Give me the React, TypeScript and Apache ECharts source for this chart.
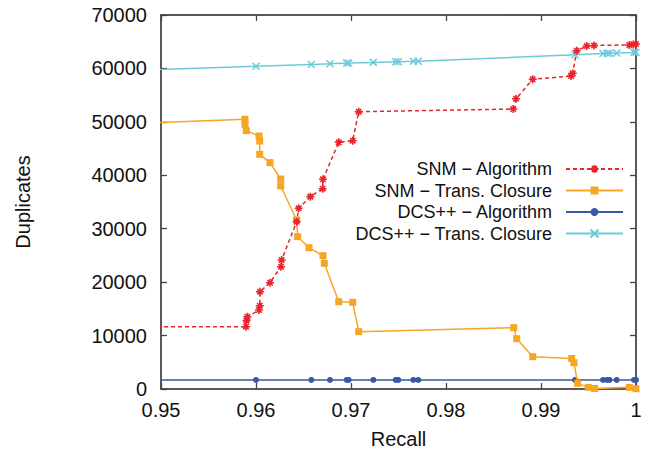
import React, { useEffect, useRef } from "react";
import * as echarts from "echarts";

// ---- data ----
const snmAlgRecall = [0.94, 0.95895, 0.959, 0.95909, 0.96032, 0.9604, 0.96042, 0.96147, 0.96263, 0.9627, 0.96428, 0.96449, 0.96572, 0.96702, 0.96705, 0.96871, 0.97018, 0.97081, 0.98708, 0.98737, 0.98913, 0.99316, 0.99334, 0.99376, 0.99481, 0.99558, 0.99929, 0.99972, 1.0];
const snmAlgDup = [11660, 11660, 12800, 13530, 14790, 15590, 18210, 19900, 22890, 24150, 31300, 33820, 36000, 37490, 39250, 46170, 46470, 51900, 52400, 54330, 57970, 58580, 59090, 63320, 64200, 64300, 64390, 64500, 64570];

const snmTcRecall = [0.94, 0.95884, 0.95884, 0.95898, 0.96032, 0.96039, 0.96039, 0.96147, 0.9626, 0.9626, 0.96428, 0.96439, 0.96558, 0.96705, 0.96719, 0.96871, 0.97018, 0.97081, 0.98713, 0.98744, 0.98913, 0.99323, 0.99347, 0.99386, 0.99498, 0.99565, 0.9993, 1.0];
const snmTcDup = [49200, 50480, 49550, 48350, 47350, 46420, 43920, 42360, 39300, 37990, 31630, 28510, 26450, 24950, 23520, 16340, 16220, 10730, 11480, 9420, 6050, 5700, 4920, 1060, 310, 100, 310, 60];

const dcsRecall = [0.94, 0.96, 0.96582, 0.96779, 0.96955, 0.96976, 0.97235, 0.97471, 0.97498, 0.97656, 0.97708, 0.99358, 0.99653, 0.99695, 0.99721, 0.99797, 0.99979, 1.0];
const dcsAlgDup = [1690, 1690, 1690, 1690, 1690, 1690, 1690, 1690, 1690, 1690, 1690, 1690, 1690, 1690, 1690, 1690, 1690, 1690];
const dcsTcDup = [59200, 60400, 60750, 60880, 61000, 61020, 61130, 61250, 61260, 61330, 61360, 62550, 62800, 62830, 62850, 62900, 63000, 63020];

const seriesNames = ["SNM − Algorithm", "SNM − Trans. Closure", "DCS++ − Algorithm", "DCS++ − Trans. Closure"];
const xTicks = { min: 0.95, max: 1, interval: 0.01 };
const yTicks = { min: 0, max: 70000, interval: 10000 };

const zip = (xs: number[], ys: number[]) => xs.map((x, i) => [x, ys[i]]);

const FONT = "'Liberation Sans', Arial, Helvetica, sans-serif";
const RED = "#e8242c";
const ORANGE = "#f6a623";
const BLUE = "#3a57a7";
const CYAN = "#6dcbd9";

const STAR = "path://M5,0L5,10M0,5L10,5M1.6,1.6L8.4,8.4M1.6,8.4L8.4,1.6";
const CROSS = "path://M0,0L10,10M0,10L10,0";

export default function App() {
  const ref = useRef<HTMLDivElement>(null);
  useEffect(() => {
    if (!ref.current) return;
    const chart = echarts.init(ref.current, undefined, { renderer: "svg" });
    const axisLine = { show: true, onZero: false, lineStyle: { color: "#222", width: 1.5 } };
    const axisTick = { show: true, inside: true, length: 6, lineStyle: { color: "#444", width: 1.3 } };
    chart.setOption({
      animation: false,
      backgroundColor: "#fff",
      textStyle: { fontFamily: FONT },
      grid: { left: 161, right: 22, top: 15, bottom: 67, containLabel: false },
      legend: {
        orient: "vertical",
        align: "right",
        right: 29,
        top: 155,
        itemWidth: 57,
        itemHeight: 10,
        itemGap: 3.5,
        data: seriesNames,
        textStyle: { fontFamily: FONT, fontSize: 18, color: "#111", padding: [0, 9, 0, 0] },
      },
      xAxis: [
        {
          type: "value",
          ...xTicks,
          position: "bottom",
          name: "Recall",
          nameLocation: "middle",
          nameGap: 40,
          nameTextStyle: { fontFamily: FONT, fontSize: 20, color: "#111" },
          axisLine,
          axisTick,
          splitLine: { show: false },
          axisLabel: {
            fontFamily: FONT,
            fontSize: 20,
            color: "#111",
            margin: 11,
            formatter: (v: number) => String(+v.toFixed(2)),
          },
        },
        {
          type: "value",
          ...xTicks,
          position: "top",
          axisLine,
          axisTick,
          splitLine: { show: false },
          axisLabel: { show: false },
        },
      ],
      yAxis: [
        {
          type: "value",
          ...yTicks,
          position: "left",
          name: "Duplicates",
          nameLocation: "middle",
          nameGap: 128,
          nameTextStyle: { fontFamily: FONT, fontSize: 20, color: "#111" },
          axisLine,
          axisTick,
          splitLine: { show: false },
          axisLabel: {
            fontFamily: FONT,
            fontSize: 20,
            color: "#111",
            margin: 14,
            formatter: (v: number) => String(Math.round(v)),
          },
        },
        {
          type: "value",
          ...yTicks,
          position: "right",
          axisLine,
          axisTick,
          splitLine: { show: false },
          axisLabel: { show: false },
        },
      ],
      series: [
        {
          name: seriesNames[0],
          type: "line",
          data: zip(snmAlgRecall, snmAlgDup),
          clip: true,
          symbol: STAR,
          symbolSize: 8,
          lineStyle: { color: RED, width: 1.5, type: [4, 3] },
          itemStyle: { color: RED, borderColor: RED, borderWidth: 1.6 },
          z: 4,
        },
        {
          name: seriesNames[1],
          type: "line",
          data: zip(snmTcRecall, snmTcDup),
          clip: true,
          symbol: "rect",
          symbolSize: 7,
          lineStyle: { color: ORANGE, width: 1.5 },
          itemStyle: { color: ORANGE },
          z: 3,
        },
        {
          name: seriesNames[2],
          type: "line",
          data: zip(dcsRecall, dcsAlgDup),
          clip: true,
          symbol: "circle",
          symbolSize: 6,
          lineStyle: { color: BLUE, width: 1.5 },
          itemStyle: { color: BLUE },
          z: 2,
        },
        {
          name: seriesNames[3],
          type: "line",
          data: zip(dcsRecall, dcsTcDup),
          clip: true,
          symbol: CROSS,
          symbolSize: 7,
          lineStyle: { color: CYAN, width: 1.5 },
          itemStyle: { color: CYAN, borderColor: CYAN, borderWidth: 1.5 },
          z: 2,
        },
      ],
    });
    return () => chart.dispose();
  }, []);
  return (
    <div
      ref={ref}
      style={{ position: "fixed", left: 0, top: 0, width: 658, height: 456, background: "#fff" }}
    />
  );
}
